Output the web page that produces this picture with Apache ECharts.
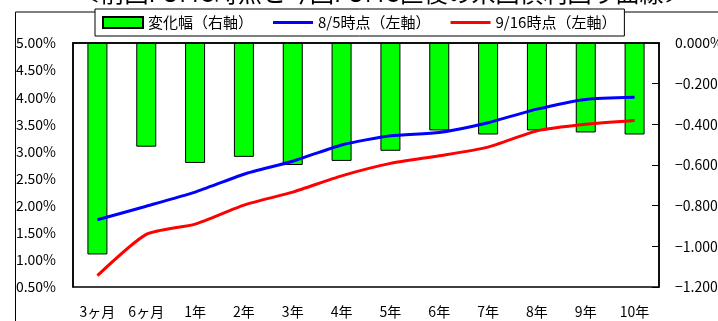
<!DOCTYPE html>
<html><head><meta charset="utf-8">
<script src="https://cdn.jsdelivr.net/npm/echarts@6/dist/echarts.min.js"></script>
<style>html,body{margin:0;padding:0;background:#fff;}#c{width:718px;height:321px;}</style>
</head><body><div id="c"></div>
<script>
const categories = ['3ヶ月','6ヶ月','1年','2年','3年','4年','5年','6年','7年','8年','9年','10年'];
const changeValues = [-1.04, -0.51, -0.59, -0.56, -0.60, -0.58, -0.53, -0.43, -0.45, -0.43, -0.44, -0.45];
const aug5Values = [1.74, 1.99, 2.25, 2.58, 2.82, 3.12, 3.29, 3.35, 3.53, 3.78, 3.96, 4.00];
const sep16Values = [0.71, 1.47, 1.66, 2.01, 2.25, 2.55, 2.78, 2.92, 3.08, 3.38, 3.50, 3.57];
const seriesNames = ['変化幅（右軸）', '8/5時点（左軸）', '9/16時点（左軸）'];
const titleText = '＜前回FOMC時点と今回FOMC直後の米国債利回り曲線＞';

const FONT = '"Noto Sans CJK JP", "Noto Sans", sans-serif';
const LINE_ICON = 'path://M0,0L40,0L40,3L0,3Z';
const chart = echarts.init(document.getElementById('c'), null, {renderer: 'canvas'});
chart.setOption({
  animation: false,
  backgroundColor: '#fff',
  textStyle: {fontFamily: FONT},
  graphic: [
    {type: 'rect', left: 13, top: 9.5, shape: {width: 760, height: 340}, silent: true,
     style: {fill: 'none', stroke: '#000', lineWidth: 1}, z: 0},
    {type: 'text', x: 382, y: 5, silent: true,
     style: {text: titleText, font: '24px ' + FONT, fill: '#000', align: 'center', verticalAlign: 'bottom'}}
  ],
  legend: {
    left: 95, top: 9,
    padding: [6, 8, 6, 7],
    borderColor: '#000', borderWidth: 1,
    backgroundColor: '#fff',
    itemGap: 20, itemWidth: 40, itemHeight: 11,
    symbolKeepAspect: true,
    textStyle: {fontSize: 15, color: '#000', fontFamily: FONT},
    data: [
      {name: seriesNames[0], icon: 'rect'},
      {name: seriesNames[1], icon: LINE_ICON},
      {name: seriesNames[2], icon: LINE_ICON}
    ]
  },
  grid: {left: 73, right: 59, top: 43, bottom: 34, outerBoundsMode: 'none', containLabel: false,
         show: true, borderColor: '#000', borderWidth: 1.5, backgroundColor: 'transparent'},
  xAxis: {
    type: 'category', data: categories, boundaryGap: true,
    axisLine: {lineStyle: {color: '#000', width: 1.5}},
    axisTick: {inside: true, length: 7, lineStyle: {color: '#000'}},
    axisLabel: {color: '#000', fontSize: 14, margin: 18, interval: 0, fontFamily: FONT},
    splitLine: {show: false}
  },
  yAxis: [
    {type: 'value', min: 0.5, max: 5, interval: 0.5, position: 'left',
     axisLine: {show: true, lineStyle: {color: '#000', width: 1.5}},
     axisTick: {show: false},
     axisLabel: {color: '#000', fontSize: 14, margin: 17, fontFamily: FONT,
                 formatter: v => v.toFixed(2) + '%'},
     splitLine: {show: false}},
    {type: 'value', min: -1.2, max: 0, interval: 0.2, position: 'right',
     axisLine: {show: true, lineStyle: {color: '#000', width: 1.5}},
     axisTick: {show: true, inside: true, length: 7, lineStyle: {color: '#000'}},
     axisLabel: {color: '#000', fontSize: 14, margin: 16, fontFamily: FONT,
                 formatter: v => (v.toFixed(3) + '%').replace('-', '−')},
     splitLine: {show: false}}
  ],
  series: [
    {name: seriesNames[0], type: 'bar', yAxisIndex: 1, data: changeValues, barWidth: 20,
     itemStyle: {color: '#00FF00', borderColor: '#000', borderWidth: 1}, z: 2},
    {name: seriesNames[1], type: 'line', yAxisIndex: 0, data: aug5Values, symbol: 'none', smooth: 0.2,
     lineStyle: {color: '#0000FF', width: 3}, itemStyle: {color: '#0000FF'}, z: 3},
    {name: seriesNames[2], type: 'line', yAxisIndex: 0, data: sep16Values, symbol: 'none', smooth: 0.2,
     lineStyle: {color: '#FF0000', width: 3}, itemStyle: {color: '#FF0000'}, z: 3}
  ]
});
</script></body></html>
